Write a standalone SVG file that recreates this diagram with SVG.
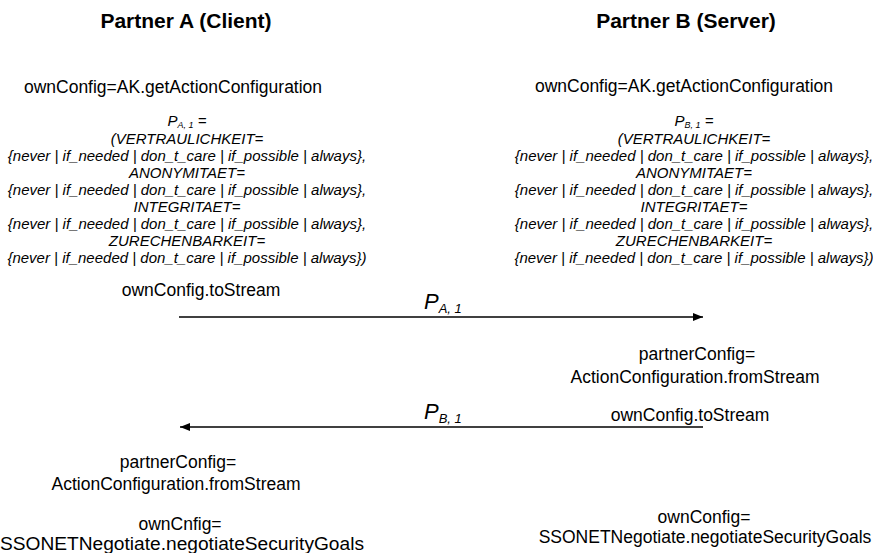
<svg xmlns="http://www.w3.org/2000/svg" width="873" height="553" viewBox="0 0 873 553">
<style>
text{font-family:"Liberation Sans",Arial,sans-serif;fill:#000;text-anchor:middle}
.t{font-size:21px;font-weight:bold}
.n{font-size:17.5px}
.i{font-size:15px;font-style:italic}
.p{font-size:22px;font-style:italic;text-anchor:start}
.s{font-size:13px;font-style:italic}
.sub{font-size:9px}
.ln{stroke:#000;stroke-width:1.3;fill:none}
</style>
<defs>
<marker id="ah" viewBox="0 0 10 8" refX="10" refY="4" markerWidth="10" markerHeight="8" markerUnits="userSpaceOnUse" orient="auto">
<path d="M0,0 L10,4 L0,8 Z" fill="#000"/>
</marker>
</defs>
<g id="partnerA">
<text class="t" x="186" y="28">Partner A (Client)</text>
<text class="n" x="173" y="93">ownConfig=AK.getActionConfiguration</text>
<g id="paramsA">
<text class="i" x="187" y="126"><tspan>P</tspan><tspan class="sub" dy="2">A, 1</tspan><tspan dy="-2"> =</tspan></text>
<text class="i" x="187" y="144">(VERTRAULICHKEIT=</text>
<text class="i" x="187" y="161">{never | if_needed | don_t_care | if_possible | always},</text>
<text class="i" x="187" y="178">ANONYMITAET=</text>
<text class="i" x="187" y="195">{never | if_needed | don_t_care | if_possible | always},</text>
<text class="i" x="187" y="212">INTEGRITAET=</text>
<text class="i" x="187" y="229">{never | if_needed | don_t_care | if_possible | always},</text>
<text class="i" x="187" y="246">ZURECHENBARKEIT=</text>
<text class="i" x="187" y="263">{never | if_needed | don_t_care | if_possible | always})</text>
</g>
<text class="n" x="201" y="296">ownConfig.toStream</text>
<text class="n" x="178" y="468">partnerConfig=</text>
<text class="n" x="176" y="490">ActionConfiguration.fromStream</text>
<text class="n" x="180" y="530">ownCnfig=</text>
<text class="n" x="182" y="550" textLength="364" lengthAdjust="spacingAndGlyphs">SSONETNegotiate.negotiateSecurityGoals</text>
</g>
<g id="partnerB">
<text class="t" x="686" y="28">Partner B (Server)</text>
<text class="n" x="684" y="92">ownConfig=AK.getActionConfiguration</text>
<g id="paramsB">
<text class="i" x="694" y="126"><tspan>P</tspan><tspan class="sub" dy="2">B, 1</tspan><tspan dy="-2"> =</tspan></text>
<text class="i" x="694" y="144">(VERTRAULICHKEIT=</text>
<text class="i" x="694" y="161">{never | if_needed | don_t_care | if_possible | always},</text>
<text class="i" x="694" y="178">ANONYMITAET=</text>
<text class="i" x="694" y="195">{never | if_needed | don_t_care | if_possible | always},</text>
<text class="i" x="694" y="212">INTEGRITAET=</text>
<text class="i" x="694" y="229">{never | if_needed | don_t_care | if_possible | always},</text>
<text class="i" x="694" y="246">ZURECHENBARKEIT=</text>
<text class="i" x="694" y="263">{never | if_needed | don_t_care | if_possible | always})</text>
</g>
<text class="n" x="697" y="360">partnerConfig=</text>
<text class="n" x="695" y="383">ActionConfiguration.fromStream</text>
<text class="n" x="690" y="421">ownConfig.toStream</text>
<text class="n" x="704" y="523">ownConfig=</text>
<text class="n" x="705" y="543">SSONETNegotiate.negotiateSecurityGoals</text>
</g>
<g id="connectors">
<line class="ln" x1="179" y1="317" x2="703" y2="317" marker-end="url(#ah)"/>
<line class="ln" x1="703" y1="427" x2="180" y2="427" marker-end="url(#ah)"/>
<text class="p" x="424" y="309">P<tspan class="s" dy="4">A, 1</tspan></text>
<text class="p" x="424" y="419">P<tspan class="s" dy="4">B, 1</tspan></text>
</g>
</svg>
